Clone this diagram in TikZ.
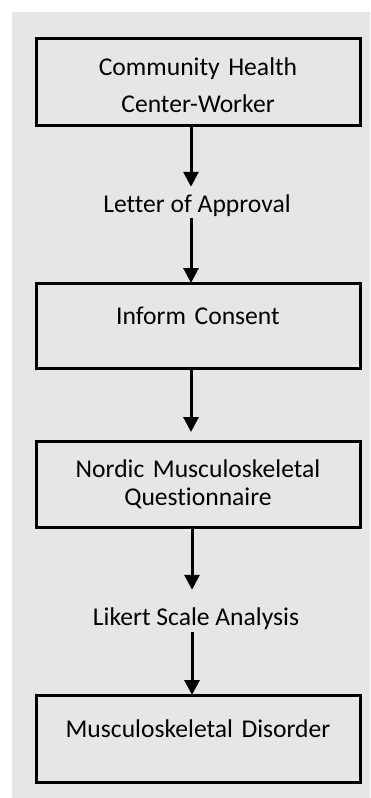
\documentclass[tikz,border=0pt]{standalone}
\usepackage{fontspec}
\setmainfont{Carlito}[Ligatures=NoCommon]
\usepackage{xcolor}
\usepackage{tikz}
\usetikzlibrary{arrows.meta}
\usetikzlibrary{positioning}
\definecolor{panelgray}{RGB}{230,230,230}
\tikzstyle{line} = [draw, line width=3pt, -{Triangle[length=15pt,width=15pt]}]
\tikzset{
    stepbox/.style={draw=black, line width=3pt, rectangle, outer sep=0pt,
        inner xsep=0pt, inner ysep=0pt, minimum width=324pt,
        text width=320pt, align=center, font=\fontsize{25.6}{28}\selectfont},
    steplabel/.style={inner sep=0pt, text height=15pt, text depth=0pt,
        font=\fontsize{25.6}{28}\selectfont},
}

\begin{document}
\begin{tikzpicture}[x=1pt, y=-1pt]
	\useasboundingbox (0,0) rectangle (370,798);
	\fill[panelgray] (12,12) rectangle (370,798);
	% boxes
	\node[stepbox, anchor=north, text height=37pt, text depth=50pt] (chc) at (198,38) {Community Health\\[9pt]Center-Worker};
	\node[steplabel, anchor=base] (approval) at (197,212) {Letter of Approval};
	\node[stepbox, anchor=north, text height=41pt, text depth=44pt] (consent) at (198,283) {Inform Consent};
	\node[stepbox, anchor=north, text height=36pt, text depth=50pt] (nordic) at (198,441) {Nordic Musculoskeletal\\Questionnaire};
	\node[steplabel, anchor=base] (likert) at (196,625) {Likert Scale Analysis};
	\node[stepbox, anchor=north, text height=42pt, text depth=45pt] (msd) at (198,695) {Musculoskeletal Disorder};
	% arrows
	\path[line, shorten >=10pt] ([xshift=-7pt]chc.south) -- ([xshift=-6pt]approval.north);
	\path[line, shorten <=6pt] ([xshift=-6pt]approval.south) -- ([xshift=-7pt]consent.north);
	\path[line, shorten >=9pt] ([xshift=-7pt]consent.south) -- ([xshift=-7pt]nordic.north);
	\path[line, shorten >=20pt] ([xshift=-6pt]nordic.south) -- ([xshift=-4pt]likert.north);
	\path[line, shorten <=7pt] ([xshift=-4pt]likert.south) -- ([xshift=-6pt]msd.north);
\end{tikzpicture}
\end{document}
